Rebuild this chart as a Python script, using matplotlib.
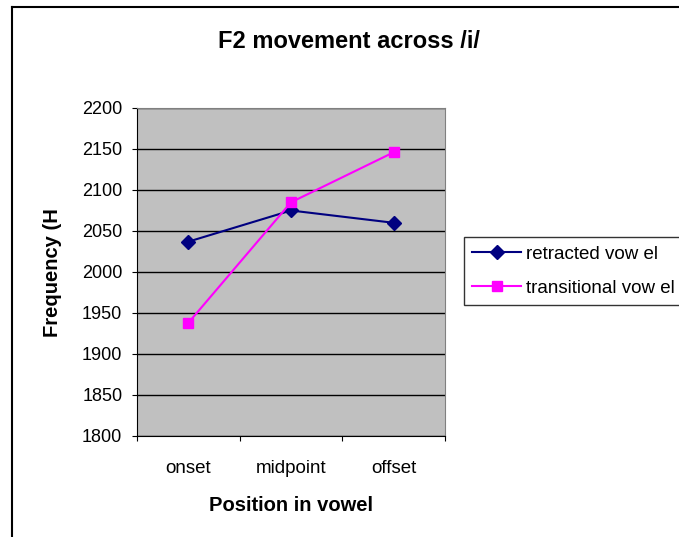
import matplotlib
matplotlib.use("Agg")
import matplotlib.pyplot as plt
from matplotlib.lines import Line2D
import numpy as np

POSITIONS = ["onset", "midpoint", "offset"]
RETRACTED = [2037, 2075, 2060]
TRANSITIONAL = [1938, 2085, 2146]
Y_TICKS = list(range(1800, 2201, 50))

plt.rcParams["font.family"] = ["Liberation Sans", "DejaVu Sans"]

fig = plt.figure(figsize=(6.79, 5.37), dpi=100)
ax = fig.add_axes([137 / 679, 1 - 436 / 537, 308 / 679, 328 / 537])
ax.set_facecolor("#C0C0C0")

x = np.arange(len(POSITIONS))
ax.plot(x, RETRACTED, color="#000080", marker="D", markersize=7.5, linewidth=1.5,
        label="retracted vow el", zorder=3)
ax.plot(x, TRANSITIONAL, color="#FF00FF", marker="s", markersize=7.5, linewidth=1.5,
        label="transitional vow el", zorder=3)

ax.set_xlim(-0.5, len(POSITIONS) - 0.5)
ax.set_ylim(Y_TICKS[0], Y_TICKS[-1])
ax.set_yticks(Y_TICKS)
ax.yaxis.grid(True, color="black", linewidth=1)
ax.set_axisbelow(True)

ax.set_xticks(np.arange(len(POSITIONS) + 1) - 0.5)
ax.set_xticklabels([])
ax.set_xticks(x, minor=True)
ax.set_xticklabels(POSITIONS, minor=True, fontsize=13.5)
ax.tick_params(axis="x", which="major", length=3.6, direction="out", color="black")
ax.tick_params(axis="x", which="minor", length=0, pad=17)
ax.tick_params(axis="y", length=3.6, direction="out", labelsize=13, pad=7)

for side in ["top", "right"]:
    ax.spines[side].set_color("#808080")
for side in ["left", "bottom"]:
    ax.spines[side].set_color("black")

ax.set_xlabel("Position in vowel", fontsize=14.5, fontweight="bold", labelpad=14)
fig.text(52 / 679, 1 - 273 / 537, "Frequency (H", rotation=90, fontsize=14.5,
         fontweight="bold", ha="center", va="center")
fig.text(218 / 679, 1 - 41 / 537, "F2 movement across /i/", fontsize=17,
         fontweight="bold", ha="left", va="center")

leg = fig.legend(loc="upper left", bbox_to_anchor=(464 / 679, 1 - 237 / 537),
                 fontsize=13.5, frameon=True, fancybox=False, handlelength=2.6,
                 borderaxespad=0, borderpad=0.45, labelspacing=0.9, handletextpad=0.25)
leg.get_frame().set_edgecolor("black")
leg.get_frame().set_linewidth(1)

fig.add_artist(Line2D([12 / 679, 12 / 679], [0, 1 - 7 / 537], color="black",
                      linewidth=1.5, transform=fig.transFigure))
fig.add_artist(Line2D([12 / 679, 1], [1 - 7 / 537, 1 - 7 / 537], color="black",
                      linewidth=1.5, transform=fig.transFigure))

fig.savefig("out.png", dpi=100)
